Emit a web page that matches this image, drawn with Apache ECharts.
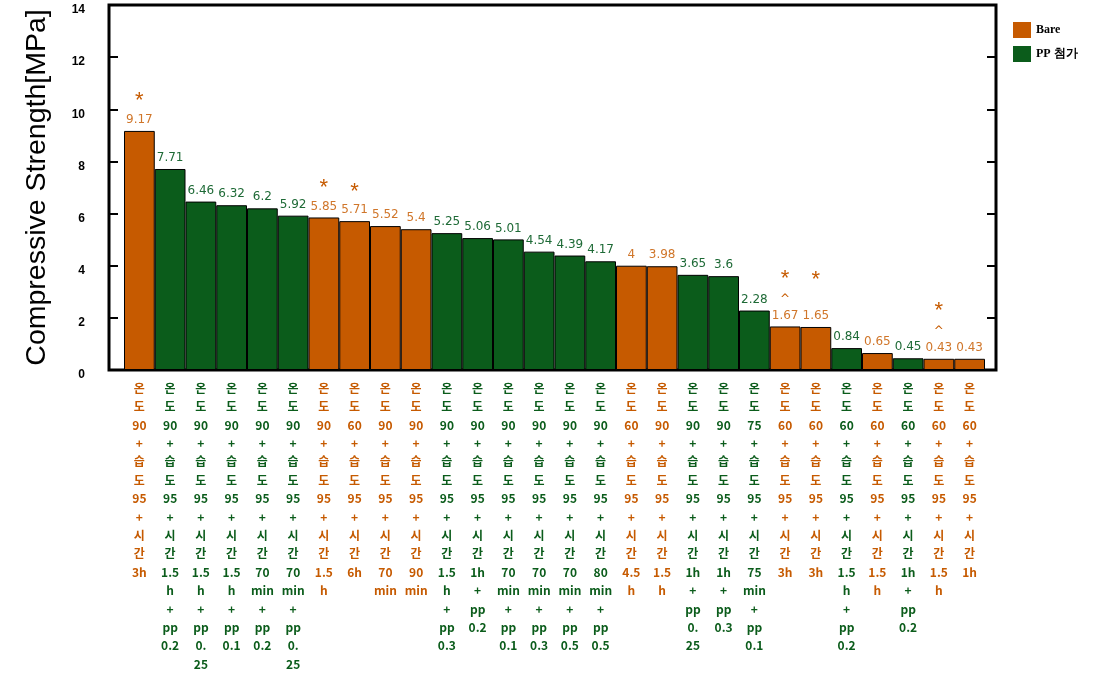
<!DOCTYPE html>
<html>
<head>
<meta charset="utf-8">
<script src="https://cdn.jsdelivr.net/npm/echarts@6/dist/echarts.min.js"></script>
<style>html,body{margin:0;padding:0;background:#fff;}#c{width:1106px;height:675px;}</style>
</head>
<body>
<div id="c"></div>
<script>
// ---- data ----
const temps = [90,90,90,90,90,90,90,60,90,90,90,90,90,90,90,90,60,90,90,90,75,60,60,60,60,60,60,60];
const humid = [95,95,95,95,95,95,95,95,95,95,95,95,95,95,95,95,95,95,95,95,95,95,95,95,95,95,95,95];
const times = ['3h','1.5h','1.5h','1.5h','70min','70min','1.5h','6h','70min','90min','1.5h','1h','70min','70min','70min','80min','4.5h','1.5h','1h','1h','75min','3h','3h','1.5h','1.5h','1h','1.5h','1h'];
const ppAdd = ['','0.2','0.25','0.1','0.2','0.25','','','','','0.3','0.2','0.1','0.3','0.5','0.5','','','0.25','0.3','0.1','','','0.2','','0.2','',''];
const strength = [9.17,7.71,6.46,6.32,6.2,5.92,5.85,5.71,5.52,5.4,5.25,5.06,5.01,4.54,4.39,4.17,4,3.98,3.65,3.6,2.28,1.67,1.65,0.84,0.65,0.45,0.43,0.43];
const notes = ['*','','','','','','*','*','','','','','','','','','','','','','','*\n^','*\n ','','','','*\n^',''];
const yTicks = [0,2,4,6,8,10,12,14];
const seriesNames = ['Bare','PP 첨가'];

const ORANGE = '#C65A00', GREEN = '#0B5C1B';
const ORANGE_T = '#D0762A', GREEN_T = '#1E6A36';

function wrapPart(s){
  if (s.length <= 3) return [s];
  const m = s.match(/^([\d.]+)([a-z]+)$/);
  if (m) return [m[1], m[2]];
  return [s.slice(0,2), s.slice(2)];
}
const categories = temps.map((t,i)=>{
  let lines = ['온','도',String(t),'+','습','도',String(humid[i]),'+','시','간'].concat(wrapPart(times[i]));
  if (ppAdd[i]) lines = lines.concat(['+','pp']).concat(wrapPart(ppAdd[i]));
  return lines.join('\n');
});
const isBare = ppAdd.map(p=>p==='');

const bareData = strength.map((v,i)=>isBare[i]?v:null);
const ppData = strength.map((v,i)=>isBare[i]?null:v);

function lbl(color){
  return {
    show:true, position:'top', distance:4,
    fontFamily:'DejaVu Sans', fontSize:12, color:color,
    formatter: p => {
      const n = notes[p.dataIndex];
      if (!n) return '{v|'+p.value+'}';
      const parts = n.split('\n');
      let s = '{s|'+parts[0]+'}';
      if (parts.length>1) s += '\n{c|'+parts[1]+'}';
      return s + '\n{v|'+p.value+'}';
    },
    rich:{
      v:{fontFamily:'DejaVu Sans', fontSize:12, color:color, lineHeight:14},
      s:{fontFamily:'Liberation Sans', fontSize:22, color:ORANGE, lineHeight:26, padding:[3,0,0,0]},
      c:{fontFamily:'DejaVu Sans', fontSize:12, color:ORANGE, lineHeight:18}
    }
  };
}

const chart = echarts.init(document.getElementById('c'));
chart.setOption({
  animation:false,
  backgroundColor:'#fff',
  legend:{
    orient:'vertical', left:1008, top:17, itemWidth:18, itemHeight:16, itemGap:8,
    icon:'rect',
    data:seriesNames,
    itemStyle:{borderWidth:0},
    textStyle:{fontFamily:'Liberation Serif', fontWeight:'bold', fontSize:12, color:'#000'}
  },
  grid:[
    {left:109, top:5, width:887, height:365, show:true, borderColor:'#000', borderWidth:3, backgroundColor:'#fff'},
    {left:124, top:5, width:861, height:365}
  ],
  xAxis:[
    {gridIndex:0, type:'value', min:0, max:1, show:false},
    {gridIndex:1, type:'category', data:categories,
      axisLine:{show:false}, axisTick:{show:false},
      axisLabel:{interval:0, margin:9, fontFamily:'Noto Sans CJK KR', fontWeight:'bold', fontSize:12, lineHeight:18.4,
        color:(v,i)=>isBare[i]?ORANGE:GREEN}
    }
  ],
  yAxis:[
    {gridIndex:0, type:'value', min:0, max:14, interval:2, position:'left',
      name:'Compressive Strength[MPa]', nameLocation:'middle', nameGap:57,
      nameTextStyle:{fontFamily:'Liberation Sans', fontSize:28.5, color:'#000'},
      axisLine:{show:false}, splitLine:{show:false},
      axisTick:{show:true, inside:true, length:9, lineStyle:{color:'#000', width:2}},
      axisLabel:{margin:24, verticalAlign:'top', lineHeight:10, fontFamily:'Liberation Sans', fontWeight:'bold', fontSize:12, color:'#000',
        formatter:v=>yTicks.includes(v)?String(v):''}
    },
    {gridIndex:0, type:'value', min:0, max:14, interval:2, position:'right',
      axisLine:{show:false}, splitLine:{show:false}, axisLabel:{show:false},
      axisTick:{show:true, inside:true, length:9, lineStyle:{color:'#000', width:2}}
    },
    {gridIndex:1, type:'value', min:0, max:14, show:false}
  ],
  series:[
    {name:seriesNames[0], type:'bar', xAxisIndex:1, yAxisIndex:2, data:bareData,
      barGap:'-100%', barCategoryGap:'0%',
      itemStyle:{color:ORANGE, borderColor:'#000', borderWidth:1},
      label:lbl(ORANGE_T)},
    {name:seriesNames[1], type:'bar', xAxisIndex:1, yAxisIndex:2, data:ppData,
      barGap:'-100%', barCategoryGap:'0%',
      itemStyle:{color:GREEN, borderColor:'#000', borderWidth:1},
      label:lbl(GREEN_T)}
  ]
});
</script>
</body>
</html>
